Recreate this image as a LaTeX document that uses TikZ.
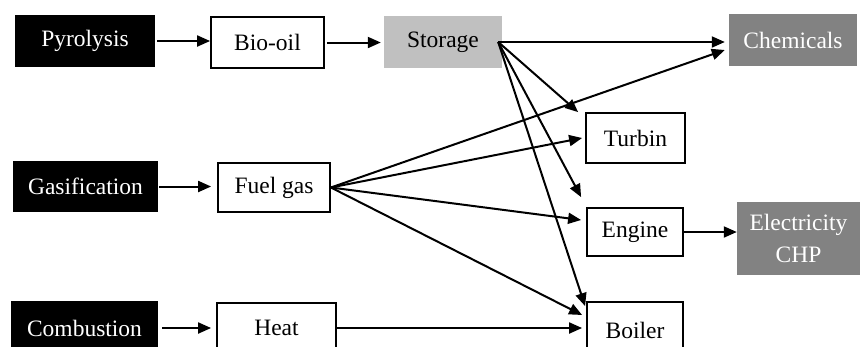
\documentclass[tikz,border=0pt]{standalone}
\usepackage{fontspec}
\setmainfont{Liberation Serif}
\usetikzlibrary{arrows.meta}
\definecolor{lightg}{HTML}{C0C0C0}
\definecolor{darkg}{HTML}{828282}
\begin{document}
\begin{tikzpicture}[x=1pt,y=-1pt,
  every node/.style={font=\fontsize{23.5pt}{32pt}\selectfont, inner sep=0pt, align=center},
  procbox/.style={fill=black, text=white},
  plainbox/.style={draw=black, line width=1.8pt, fill=white},
  storebox/.style={fill=lightg},
  outbox/.style={fill=darkg, text=white},
  conn/.style={line width=2pt, -{Triangle[length=13pt,width=11pt]}}]
\useasboundingbox (0,0) rectangle (860,346);
\clip (0,0) rectangle (860,346);
% nodes
\node[procbox, minimum width=140pt, minimum height=52pt] (pyro) at (85,41) {Pyrolysis};
\node[plainbox, minimum width=113pt, minimum height=51pt] (bio) at (267.5,42.5) {Bio-oil};
\node[storebox, minimum width=118pt, minimum height=52pt] (st) at (443,42) {Storage};
\node[outbox, minimum width=128pt, minimum height=52pt] (chem) at (793,40) {Chemicals};
\node[plainbox, minimum width=99pt, minimum height=50pt] (tur) at (635.5,138) {Turbin};
\node[procbox, minimum width=145pt, minimum height=51pt] (gas) at (85.5,186.5) {Gasification};
\node[plainbox, minimum width=112pt, minimum height=49pt] (fuel) at (274,187.5) {Fuel gas};
\node[plainbox, minimum width=96pt, minimum height=48pt] (eng) at (635,232) {Engine};
\node[outbox, minimum width=123pt, minimum height=73pt] (elec) at (798.5,238.5) {Electricity\\CHP};
\node[procbox, minimum width=147pt, minimum height=54pt] (comb) at (84.5,328) {Combustion};
\node[plainbox, minimum width=119pt, minimum height=50pt] (heat) at (276.5,328) {Heat};
\node[plainbox, minimum width=96pt, minimum height=56pt] (boil) at (635,330) {Boiler};
% connectors
\draw[conn, shorten <=2pt] (pyro.east) -- (pyro.east -| bio.west);
\draw[conn, shorten <=2pt, shorten >=3pt] (bio.east) -- (bio.east -| st.west);
\draw[conn] ([xshift=-4pt]st.east) -- ([xshift=-4pt]st.east -| chem.west);
\draw[conn] ([xshift=-4pt]st.east) -- ([xshift=-7pt]tur.north west);
\draw[conn] ([xshift=-4pt]st.east) -- ([xshift=-5pt,yshift=10pt]eng.north west);
\draw[conn] ([xshift=-4pt]st.east) -- ([xshift=-1pt,yshift=-5pt]boil.north west);
\draw[conn, shorten <=1pt, shorten >=6pt] (gas.east) -- (gas.east -| fuel.west);
\draw[conn] (fuel.east) -- ([xshift=-4pt,yshift=-10pt]chem.west);
\draw[conn] (fuel.east) -- ([xshift=-3pt]tur.west);
\draw[conn] (fuel.east) -- ([xshift=-5pt,yshift=12pt]eng.west);
\draw[conn] (fuel.east) -- ([xshift=-4pt,yshift=15pt]boil.west);
\draw[conn, shorten <=4pt, shorten >=5pt] (comb.east) -- (comb.east -| heat.west);
\draw[conn, shorten >=4pt] (heat.east) -- (heat.east -| boil.west);
\draw[conn] (eng.east) -- (eng.east -| elec.west);
\end{tikzpicture}
\end{document}
